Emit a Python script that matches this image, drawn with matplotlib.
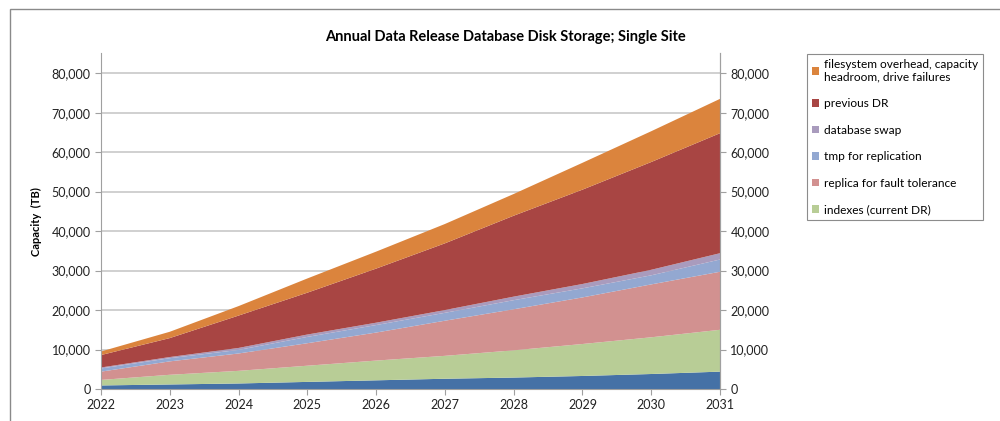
import numpy as np
import matplotlib.pyplot as plt
from matplotlib.patches import Rectangle
from matplotlib.ticker import FuncFormatter

plt.rcParams['font.family'] = ['Lato', 'DejaVu Sans']

# === Data (TB, per layer) ===
years = [2022, 2023, 2024, 2025, 2026, 2027, 2028, 2029, 2030, 2031]

base_tops = [900, 1150, 1400, 1800, 2200, 2600, 2900, 3300, 3800, 4400]
indexes_tops = [2300, 3600, 4600, 5900, 7200, 8400, 9800, 11400, 13100, 15000]
replica_tops = [4400, 7000, 9000, 11600, 14300, 17300, 20200, 23200, 26500, 29700]
tmp_tops = [5200, 7800, 9900, 13200, 16200, 19300, 22500, 25500, 28800, 32800]
swap_tops = [5450, 8100, 10400, 13800, 16800, 20000, 23400, 26600, 30200, 34400]
prev_dr_tops = [8600, 12900, 18600, 24400, 30500, 36900, 43900, 50500, 57500, 64800]
overhead_tops = [9500, 14500, 21000, 28000, 34800, 41800, 49400, 57300, 65300, 73500]

labels = [None, "indexes (current DR)", "replica for fault tolerance",
          "tmp for replication", "database swap", "previous DR",
          "filesystem overhead, capacity\nheadroom, drive failures"]
colors = ["#4571a6", "#b8cd96", "#d29190", "#93a8d1", "#a99bbd", "#a84543", "#db843d"]

tops = [base_tops, indexes_tops, replica_tops, tmp_tops, swap_tops, prev_dr_tops, overhead_tops]
layers = [np.array(tops[0])] + [np.array(tops[i]) - np.array(tops[i - 1]) for i in range(1, len(tops))]

# === Figure ===
fig = plt.figure(figsize=(10, 4.21), dpi=100)
ax = fig.add_axes([0.101, 0.076, 0.619, 0.797])

polys = ax.stackplot(years, *layers, colors=colors, linewidth=0)

ax.set_xlim(2022, 2031)
ax.set_ylim(0, 85000)
ax.set_xticks(years)
ax.set_yticks(np.arange(0, 80001, 10000))
fmt = FuncFormatter(lambda v, p: f"{int(v):,}")
ax.yaxis.set_major_formatter(fmt)
ax.grid(axis='y', color='#c8c8c8', linewidth=1.2)
ax.set_axisbelow(True)

ax.spines['top'].set_visible(False)
for s in ['left', 'right', 'bottom']:
    ax.spines[s].set_color('#a0a0a0')
ax.tick_params(axis='both', colors='#a0a0a0', labelcolor='#222222', labelsize=9,
               direction='out', length=4)
ax.set_ylabel("Capacity  (TB)", fontsize=8, fontweight='bold', labelpad=7)

ax2 = ax.twinx()
ax2.set_ylim(ax.get_ylim())
ax2.set_yticks(np.arange(0, 80001, 10000))
ax2.yaxis.set_major_formatter(fmt)
for s in ['top', 'left', 'bottom']:
    ax2.spines[s].set_visible(False)
ax2.spines['right'].set_color('#a0a0a0')
ax2.tick_params(axis='y', colors='#a0a0a0', labelcolor='#222222', labelsize=9,
                direction='out', length=4)

fig.text(0.505, 0.912, "Annual Data Release Database Disk Storage; Single Site",
         fontsize=10.5, fontweight='bold', ha='center', va='center')

# legend: top layer first, bottom (unlabelled) layer left out
handles = [polys[i] for i in range(len(polys) - 1, 0, -1)]
leg_labels = [labels[i] for i in range(len(labels) - 1, 0, -1)]
leg = fig.legend(handles, leg_labels, loc='upper left', bbox_to_anchor=(0.807, 0.872),
                 fontsize=8.6, frameon=True, fancybox=False, handlelength=0.6,
                 handleheight=0.6, handletextpad=0.4, labelspacing=1.3,
                 borderpad=0.4, borderaxespad=0)
leg.get_frame().set_edgecolor('#707070')
leg.get_frame().set_linewidth(0.8)
for t in leg.get_texts():
    t.set_linespacing(1.2)

# outer chart frame
fig.patches.append(Rectangle((0.01, -0.05), 1.1, 1.028, transform=fig.transFigure,
                             fill=False, edgecolor='#8a8a8a', linewidth=1))

fig.savefig("out.png", dpi=100)
